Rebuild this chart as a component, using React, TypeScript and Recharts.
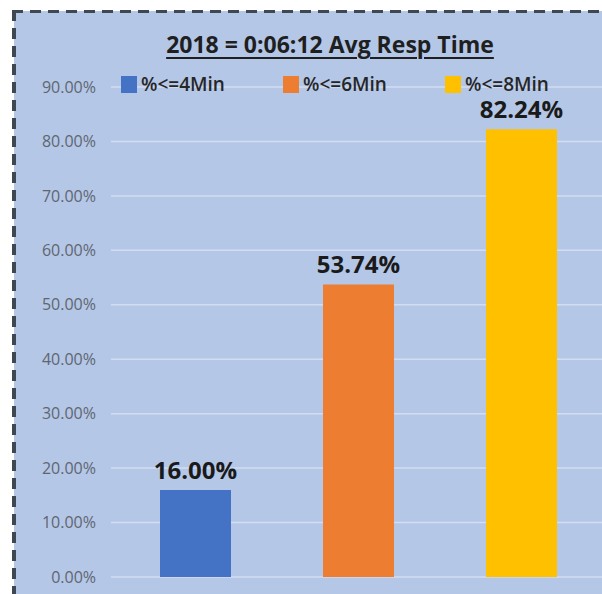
import React from "react";
import {
  BarChart,
  Bar,
  XAxis,
  YAxis,
  CartesianGrid,
  Legend,
  LabelList,
} from "recharts";

const chartTitle = "2018 = 0:06:12 Avg Resp Time";
const categories = ["2018"];
const seriesKeys = ["le4", "le6", "le8"];
const seriesNames = ["%<=4Min", "%<=6Min", "%<=8Min"];
const seriesValues = [16.0, 53.74, 82.24];
const seriesColors = ["#4472C4", "#ED7D31", "#FFC000"];
const yTicks = [0, 10, 20, 30, 40, 50, 60, 70, 80, 90];

const FONT = "'Open Sans', 'Noto Sans', sans-serif";

const data = categories.map((name) => {
  const row: Record<string, string | number> = { name };
  seriesKeys.forEach((k, i) => {
    row[k] = seriesValues[i];
  });
  return row;
});

function LegendContent(props: any): React.ReactElement {
  const payload = props.payload ?? [];
  return (
    <div style={{ display: "flex", fontFamily: FONT }}>
      {payload.map((p: any) => (
        <div
          key={p.value}
          style={{ width: 162, height: 20, display: "flex", alignItems: "center" }}
        >
          <span
            style={{
              display: "inline-block",
              width: 16,
              height: 17,
              background: p.color,
              marginRight: 4,
            }}
          />
          <span style={{ fontSize: 19, fontWeight: 600, color: "#262626" }}>
            {p.value}
          </span>
        </div>
      ))}
    </div>
  );
}

export default function App(): React.ReactElement {
  return (
    <div
      style={{
        position: "absolute",
        left: 0,
        top: 0,
        width: 602,
        height: 594,
        overflow: "hidden",
        background: "#ffffff",
      }}
    >
      <div
        style={{
          position: "absolute",
          left: 14,
          top: 11,
          right: 0,
          bottom: 0,
          background: "#B4C7E7",
        }}
      />
      <svg
        width={602}
        height={594}
        style={{ position: "absolute", left: 0, top: 0 }}
      >
        <line x1={12} y1={11.5} x2={602} y2={11.5} stroke="#3E4752" strokeWidth={3} strokeDasharray="11 7" />
        <line x1={14} y1={10} x2={14} y2={594} stroke="#3E4752" strokeWidth={4} strokeDasharray="11 7" />
      </svg>
      <div
        style={{
          position: "absolute",
          left: 0,
          top: 29,
          width: 660,
          textAlign: "center",
          fontFamily: FONT,
          fontWeight: 700,
          fontSize: 23,
          lineHeight: "31px",
          color: "#1F1F1F",
          textDecoration: "underline",
          textUnderlineOffset: "4px",
          textDecorationThickness: "2px",
        }}
      >
        {chartTitle}
      </div>
      <div style={{ position: "absolute", left: 0, top: 0 }}>
        <BarChart
          width={650}
          height={594}
          data={data}
          margin={{ top: 87, right: 44, bottom: 17, left: 0 }}
          barGap={92}
          barSize={71}
        >
          <CartesianGrid
            vertical={false}
            stroke="#D3DDF0"
            strokeWidth={1.5}
          />
          <XAxis dataKey="name" hide />
          <YAxis
            domain={[0, 90]}
            ticks={yTicks}
            interval={0}
            width={111}
            axisLine={false}
            tickLine={false}
            tickMargin={9}
            tick={{ fill: "#5F6670", fontSize: 16, fontFamily: FONT }}
            tickFormatter={(v: number) => `${v.toFixed(2)}%`}
          />
          <Legend
            layout="horizontal"
            verticalAlign="middle"
            align="center"
            content={LegendContent}
            wrapperStyle={{ left: 121, top: 74, width: 500, height: 20 }}
          />
          {seriesKeys.map((k, i) => (
            <Bar
              key={k}
              dataKey={k}
              name={seriesNames[i]}
              fill={seriesColors[i]}
              isAnimationActive={false}
            >
              <LabelList
                dataKey={k}
                position="top"
                offset={11}
                formatter={(v: any) => `${Number(v).toFixed(2)}%`}
                style={{
                  fontSize: 24,
                  fontWeight: 700,
                  fontFamily: FONT,
                  fill: "#1A1A1A",
                }}
              />
            </Bar>
          ))}
        </BarChart>
      </div>
    </div>
  );
}
